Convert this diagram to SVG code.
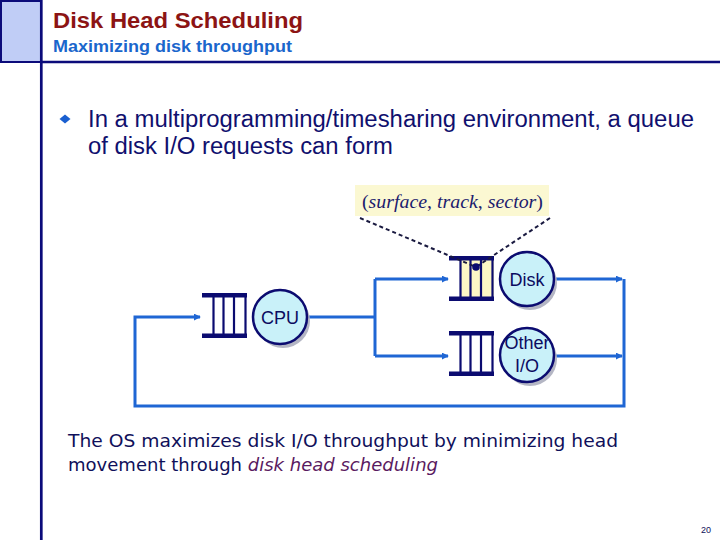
<svg xmlns="http://www.w3.org/2000/svg" width="720" height="540" viewBox="0 0 720 540">
<style>
.frame{stroke:#0b0b7a;stroke-width:2.7;fill:none}
.conn{stroke:#1f66d4;stroke-width:3;fill:none}
.bar{fill:#0b0b70}
.vl{stroke:#0b0b70;stroke-width:2.2}
.circ{fill:#c9f1f9;stroke:#0b0b70;stroke-width:2.5}
.shadow{fill:#b4b6c4}
.ntext{font-family:"Liberation Sans",Arial,sans-serif;font-size:18px;fill:#0b0b60;text-anchor:middle}
.dash{stroke:#1a1a40;stroke-width:2;stroke-dasharray:4 3;fill:none}
</style>
<defs>
<marker id="arr" viewBox="0 0 8 8" refX="7" refY="4" markerWidth="7" markerHeight="7" markerUnits="userSpaceOnUse" orient="auto">
<path d="M0,0 L8,4 L0,8 z" fill="#1f66d4"/>
</marker>
</defs>
<rect x="0" y="0" width="720" height="540" fill="#ffffff"/>
<g id="frame">
<rect x="1" y="1" width="40" height="61" fill="#c0cdf6" stroke="#0b0b7a" stroke-width="2"/>
<line class="frame" x1="41.3" y1="0" x2="41.3" y2="540"/>
<line class="frame" x1="41" y1="62" x2="720" y2="62"/>
</g>
<g id="titles">
<text x="53" y="28" font-family="'Liberation Sans',Arial,sans-serif" font-weight="bold" font-size="22" fill="#8c1414" textLength="250" lengthAdjust="spacingAndGlyphs">Disk Head Scheduling</text>
<text x="53" y="51.5" font-family="'Liberation Sans',Arial,sans-serif" font-weight="bold" font-size="17" fill="#1a66cc" textLength="239" lengthAdjust="spacingAndGlyphs">Maximizing disk throughput</text>
</g>
<g id="bullet">
<path d="M65,114.5 L70.5,119 L65,123.5 L59.5,119 z" fill="#1a5fd0"/>
<text x="88" y="127" font-family="'Liberation Sans',Arial,sans-serif" font-size="23" fill="#10106e" textLength="606" lengthAdjust="spacingAndGlyphs">In a multiprogramming/timesharing environment, a queue</text>
<text x="88" y="154" font-family="'Liberation Sans',Arial,sans-serif" font-size="23" fill="#10106e" textLength="305" lengthAdjust="spacingAndGlyphs">of disk I/O requests can form</text>
</g>
<g id="connectors">
<path class="conn" d="M308,317 H375"/>
<path class="conn" d="M375,279 V356"/>
<path class="conn" d="M375,279 H448" marker-end="url(#arr)"/>
<path class="conn" d="M375,356 H448" marker-end="url(#arr)"/>
<path class="conn" d="M556,279 H622" marker-end="url(#arr)"/>
<path class="conn" d="M556,356 H622" marker-end="url(#arr)"/>
<path class="conn" d="M624,279 V406 H135 V317 H200" marker-end="url(#arr)"/>
</g>
<g id="cpu-queue">
<rect class="bar" x="202" y="293" width="45" height="4.5"/>
<rect class="bar" x="202" y="333.5" width="45" height="4.5"/>
<line class="vl" x1="213.5" y1="293" x2="213.5" y2="338" stroke-width="3"/>
<line class="vl" x1="223.5" y1="293" x2="223.5" y2="338"/>
<line class="vl" x1="234" y1="293" x2="234" y2="338"/>
<line class="vl" x1="245.5" y1="293" x2="245.5" y2="338" stroke-width="3"/>
</g>
<g id="cpu">
<circle class="shadow" cx="283" cy="321" r="27"/>
<circle class="circ" cx="280" cy="317" r="27"/>
<text class="ntext" x="280" y="323.5">CPU</text>
</g>
<g id="disk-queue">
<rect x="460" y="258" width="34" height="41" fill="#fcf7c6"/>
<rect class="bar" x="449" y="256" width="45" height="4.5"/>
<rect class="bar" x="449" y="296.5" width="45" height="4.5"/>
<line class="vl" x1="460.5" y1="256" x2="460.5" y2="301" stroke-width="3"/>
<line class="vl" x1="470.5" y1="256" x2="470.5" y2="301"/>
<line class="vl" x1="481" y1="256" x2="481" y2="301"/>
<line class="vl" x1="492.5" y1="256" x2="492.5" y2="301" stroke-width="3"/>
</g>
<g id="disk">
<circle class="shadow" cx="530" cy="283" r="27"/>
<circle class="circ" cx="527" cy="279" r="27"/>
<text class="ntext" x="527" y="286">Disk</text>
</g>
<g id="other-queue">
<rect class="bar" x="449" y="331" width="45" height="4.5"/>
<rect class="bar" x="449" y="371.5" width="45" height="4.5"/>
<line class="vl" x1="460.5" y1="331" x2="460.5" y2="376" stroke-width="3"/>
<line class="vl" x1="470.5" y1="331" x2="470.5" y2="376"/>
<line class="vl" x1="481" y1="331" x2="481" y2="376"/>
<line class="vl" x1="492.5" y1="331" x2="492.5" y2="376" stroke-width="3"/>
</g>
<g id="other-io">
<circle class="shadow" cx="530" cy="359" r="27"/>
<circle class="circ" cx="527" cy="355" r="27"/>
<text class="ntext" x="527" y="349">Other</text>
<text class="ntext" x="527" y="372">I/O</text>
</g>
<g id="request-label">
<rect x="355" y="185" width="194" height="31" fill="#fbf8d2"/>
<text x="362" y="208" font-family="'Liberation Serif','Times New Roman',serif" font-size="18" fill="#1c1c6e" textLength="181" lengthAdjust="spacingAndGlyphs">(<tspan font-style="italic">surface</tspan>, <tspan font-style="italic">track</tspan>, <tspan font-style="italic">sector</tspan>)</text>
<path class="dash" d="M360,218 L476,267"/>
<path class="dash" d="M550,218 L476,267"/>
<circle cx="476" cy="267" r="3.8" fill="#0b0b70"/>
</g>
<g id="footer-text">
<text x="68" y="447" font-family="'Comic Sans MS','DejaVu Sans',sans-serif" font-size="18" fill="#10105a" textLength="550" lengthAdjust="spacingAndGlyphs">The OS maximizes disk I/O throughput by minimizing head</text>
<text x="68" y="471" font-family="'Comic Sans MS','DejaVu Sans',sans-serif" font-size="18" fill="#10105a" textLength="370" lengthAdjust="spacingAndGlyphs">movement through <tspan font-style="italic" fill="#5a1a60">disk head scheduling</tspan></text>
</g>
<text x="701" y="533" font-family="'Liberation Sans',Arial,sans-serif" font-size="9" fill="#10105a">20</text>
</svg>
